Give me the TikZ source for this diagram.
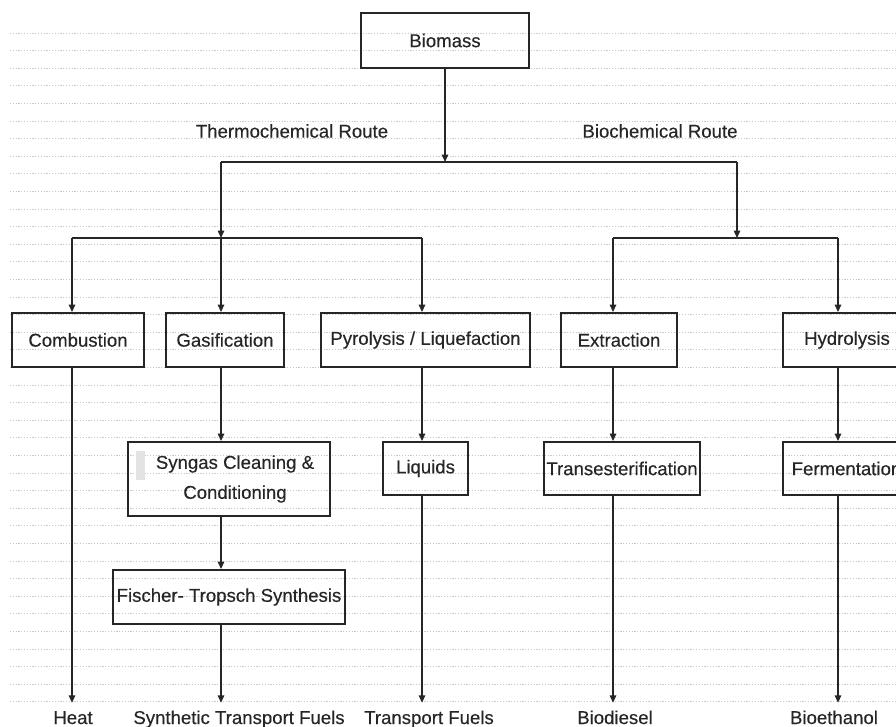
\documentclass[tikz,border=0pt]{standalone}
\usepackage{fontspec}
\setmainfont{Liberation Sans}[UprightFeatures={FakeBold=0.35}]
\usetikzlibrary{arrows.meta}
\definecolor{ink}{HTML}{262626}
\definecolor{rulecol}{HTML}{C8C8C8}
\begin{document}
\begin{tikzpicture}[x=1pt,y=-1pt,
  txt/.style={text=ink, font=\fontsize{18.6}{30}\selectfont},
  box/.style={txt, draw=ink, line width=1.9pt, inner sep=0pt, anchor=center, align=center},
  lab/.style={txt, inner sep=0pt},
  outlab/.style={txt, anchor=base, inner xsep=0pt, inner ysep=8pt, text height=13pt, text depth=4pt},
  arr/.style={draw=ink, line width=1.5pt, -{Triangle[length=7.5pt,width=6.5pt]}},
  bar/.style={draw=ink, line width=2pt},
  ruled/.style={draw=rulecol, line width=0.8pt, dash pattern=on 1.2pt off 1.6pt}]
\useasboundingbox (0,0) rectangle (896,726);
\clip (0,0) rectangle (896,726);
% ruled background
\foreach \i in {0,...,38} {
  \draw[ruled] (10,{33+17.6*\i}) -- (896,{33+17.6*\i});
}
% boxes
\node[box, minimum width=168pt, minimum height=55pt] (bio) at (445,40.5) {Biomass};
\node[box, minimum width=132pt, minimum height=54pt] (comb) at (78,340) {Combustion};
\node[box, minimum width=118pt, minimum height=54pt] (gas) at (225,340) {Gasification};
\node[box, minimum width=209pt, minimum height=54pt] (pyro) at (425.5,340) {Pyrolysis / Liquefaction};
\node[box, minimum width=116pt, minimum height=54pt] (extr) at (619,340) {Extraction};
\node[box, minimum width=128pt, minimum height=54pt] (hydro) at (847,340) {Hydrolysis};
\node[box, minimum width=202pt, minimum height=74pt] (syn) at (229,479) {\hspace*{12pt}Syngas Cleaning \&\\\hspace*{12pt}Conditioning};
\fill[gray!22] (136,451) rectangle (145,480);
\node[box, minimum width=85pt, minimum height=53pt] (liq) at (425.5,468.5) {Liquids};
\node[box, minimum width=156pt, minimum height=53pt] (trans) at (622,468.5) {Transesterification};
\node[box, minimum width=127pt, minimum height=53pt] (ferm) at (846.5,468.5) {Fermentation};
\node[box, minimum width=232pt, minimum height=54pt] (fts) at (229,597) {Fischer- Tropsch Synthesis};
% route labels
\node[lab] (thermo) at (292,131) {Thermochemical Route};
\node[lab] (bioch) at (660,131) {Biochemical Route};
% output labels
\node[outlab] (heat) at (73,724) {Heat};
\node[outlab] (stf) at (239,724) {Synthetic Transport Fuels};
\node[outlab] (tf) at (429,724) {Transport Fuels};
\node[outlab] (bdsl) at (615,724) {Biodiesel};
\node[outlab] (beth) at (834,724) {Bioethanol};
% junction coordinates
\coordinate (tL) at (221,162);
\coordinate (tM) at (445,162);
\coordinate (tR) at (737,162);
\coordinate (thL) at (72,238);
\coordinate (thM) at (221,238);
\coordinate (thR) at (422,238);
\coordinate (biL) at (613,238);
\coordinate (biM) at (737,238);
\coordinate (biR) at (838,238);
% top level
\draw[arr] (bio.south) -- (tM);
\draw[bar] (tL) -- (tR);
\draw[arr] (tL) -- (thM);
\draw[arr] (tR) -- (biM);
\draw[bar] (thL) -- (thR);
\draw[bar] (biL) -- (biR);
% into first row
\draw[arr] (thL) -- (thL |- comb.north);
\draw[arr] (thM) -- (thM |- gas.north);
\draw[arr] (thR) -- (thR |- pyro.north);
\draw[arr] (biL) -- (biL |- extr.north);
\draw[arr] (biR) -- (biR |- hydro.north);
% chains
\draw[arr] (gas.south -| thM) -- (thM |- syn.north);
\draw[arr] (syn.south -| thM) -- (thM |- fts.north);
\draw[arr] (pyro.south -| thR) -- (thR |- liq.north);
\draw[arr] (extr.south -| biL) -- (biL |- trans.north);
\draw[arr] (hydro.south -| biR) -- (biR |- ferm.north);
% outputs
\draw[arr] (comb.south -| thL) -- (thL |- heat.north);
\draw[arr] (fts.south -| thM) -- (thM |- stf.north);
\draw[arr] (liq.south -| thR) -- (thR |- tf.north);
\draw[arr] (trans.south -| biL) -- (biL |- bdsl.north);
\draw[arr] (ferm.south -| biR) -- (biR |- beth.north);
\end{tikzpicture}
\end{document}
